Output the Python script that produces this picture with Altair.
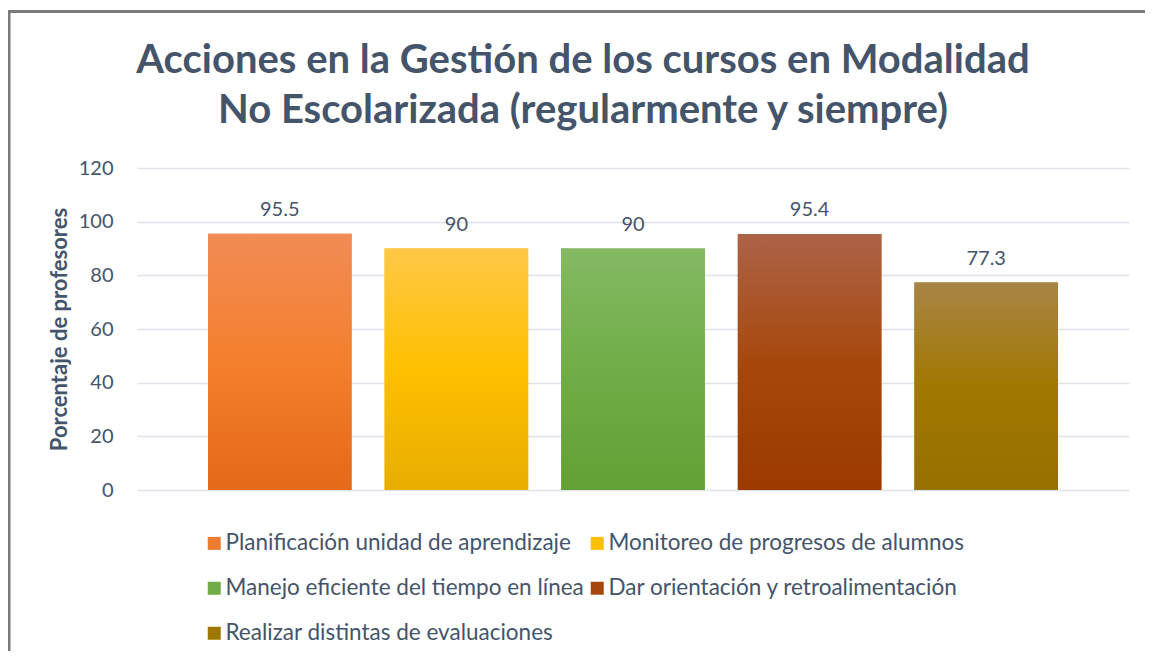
import altair as alt
import pandas as pd

title_lines = ["Acciones en la Gestión de los cursos en Modalidad",
               "No Escolarizada (regularmente y siempre)"]
cats = [
    "Planificación unidad de aprendizaje",
    "Monitoreo de progresos de alumnos",
    "Manejo eficiente del tiempo en línea",
    "Dar orientación y retroalimentación",
    "Realizar distintas de evaluaciones",
]
vals = [95.5, 90, 90, 95.4, 77.3]
labels = ["95.5", "90", "90", "95.4", "77.3"]
base_colors = ["#ED7D31", "#FFC000", "#70AD47", "#A5470C", "#9E7700"]
top_colors = ["#F18C55", "#FFC846", "#84BA64", "#AD6348", "#A88446"]
mid_colors = ["#F47F2C", "#FFC000", "#70AD47", "#A6480C", "#A17800"]
bot_colors = ["#E46A17", "#E8AD00", "#62A135", "#9C3A00", "#967000"]
y_ticks = [0, 20, 40, 60, 80, 100, 120]

FONT = "Lato"
TXT = "#44546A"

df = pd.DataFrame({"cat": cats, "val": vals, "lab": labels})

x_enc = alt.X("cat:N", sort=cats, axis=None,
              scale=alt.Scale(domain=cats, paddingInner=0.187, paddingOuter=0.402))
y_enc = alt.Y("val:Q", scale=alt.Scale(domain=[0, 120], nice=False),
              axis=alt.Axis(values=y_ticks, title="Porcentaje de profesores",
                            grid=True, gridColor="#DFE3E9", gridWidth=1.5,
                            domain=False, ticks=False, labelPadding=24,
                            labelFontSize=20, labelColor=TXT, labelFont=FONT,
                            titleFont=FONT, titleFontSize=22, titleFontWeight="bold",
                            titleColor=TXT, titlePadding=7))

base = alt.Chart(df)

solid = base.mark_bar().encode(
    x=x_enc,
    y=y_enc,
    color=alt.Color("cat:N", sort=cats,
                    scale=alt.Scale(domain=cats, range=base_colors),
                    legend=alt.Legend(orient="none", legendX=66, legendY=364,
                                      direction="horizontal",
                                      columns=2, title=None, symbolType="square",
                                      symbolSize=169, symbolStrokeWidth=0,
                                      labelFontSize=22.5, labelFont=FONT, labelColor=TXT,
                                      labelLimit=600, labelOffset=0, columnPadding=2,
                                      rowPadding=22, padding=0)),
)

grad_layers = []
for i, c in enumerate(cats):
    g = alt.Gradient(
        gradient="linear",
        stops=[alt.GradientStop(color=top_colors[i], offset=0),
               alt.GradientStop(color=mid_colors[i], offset=0.5),
               alt.GradientStop(color=bot_colors[i], offset=1)],
        x1=0, x2=0, y1=0, y2=1,
    )
    grad_layers.append(
        base.transform_filter(alt.datum.cat == c)
        .mark_bar(color=g)
        .encode(x=x_enc, y=alt.Y("val:Q"))
    )

text = base.mark_text(fontSize=20, font=FONT, color=TXT, dy=-18,
                      baseline="alphabetic").encode(
    x=x_enc, y=alt.Y("val:Q"), text="lab:N"
)

one = pd.DataFrame({"a": [0]})
title = alt.Chart(one).mark_text(
    text=title_lines, font=FONT, fontSize=40, fontWeight="bold", color=TXT,
    align="center", baseline="top", lineHeight=50,
).encode(x=alt.value(446), y=alt.value(-127))

frame_left = alt.Chart(one).mark_rule(color="#7A7A7A", strokeWidth=3).encode(
    x=alt.value(-128), y=alt.value(-158), y2=alt.value(483)
)
frame_top = alt.Chart(one).mark_rule(color="#7A7A7A", strokeWidth=3).encode(
    x=alt.value(-129.5), x2=alt.value(1008), y=alt.value(-156.5)
)

chart = alt.layer(solid, *grad_layers, text, title, frame_left, frame_top).properties(
    width=992,
    height=322,
    padding={"left": 129, "top": 160, "right": 16, "bottom": 161},
    autosize=alt.AutoSizeParams(type="none"),
).configure_view(stroke=None)

chart.save("out.html", embed_options={"renderer": "svg", "actions": False})
